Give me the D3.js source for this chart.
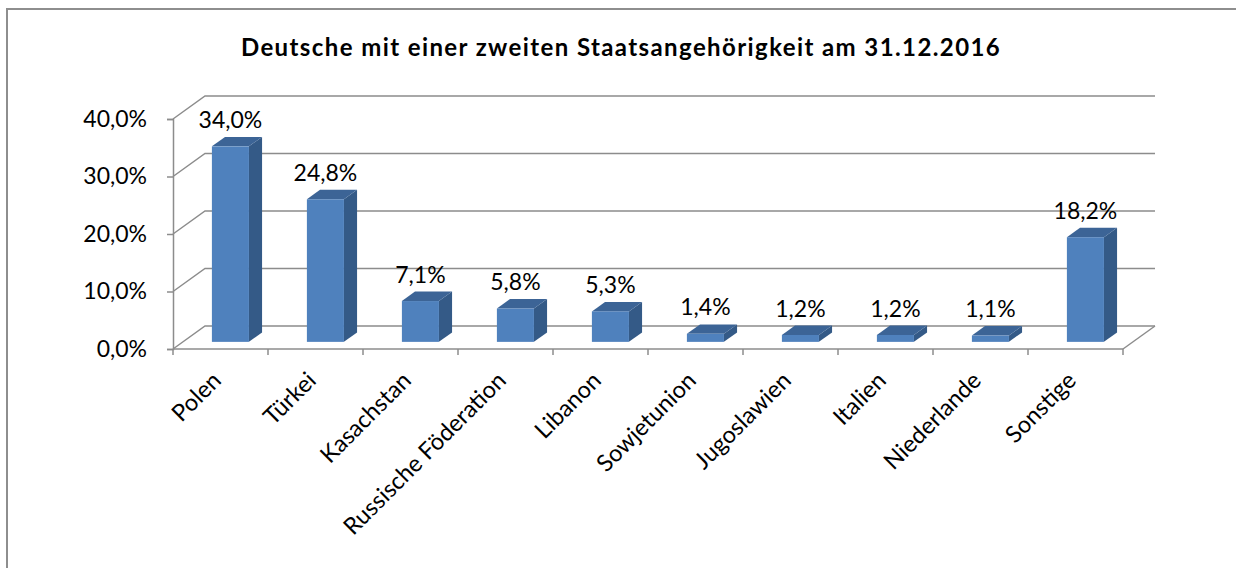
<!DOCTYPE html>
<html>
<head>
<meta charset="utf-8">
<script src="https://cdn.jsdelivr.net/npm/d3@7"></script>
<style>
  body { margin: 0; background: #fff; }
  svg { font-family: Lato, "Open Sans", sans-serif; }
</style>
</head>
<body>
<div id="chart"></div>
<script>
// data
const categories = ["Polen", "Türkei", "Kasachstan", "Russische Föderation", "Libanon",
    "Sowjetunion", "Jugoslawien", "Italien", "Niederlande", "Sonstige"];
const values = [34.0, 24.8, 7.1, 5.8, 5.3, 1.4, 1.2, 1.2, 1.1, 18.2];
const yTicks = [0, 10, 20, 30, 40];
const title = "Deutsche mit einer zweiten Staatsangehörigkeit am 31.12.2016";

const W = 1236, H = 568;
const svg = d3.select("#chart").append("svg")
    .attr("width", W)
    .attr("height", H);

// chart frame (cut off at right/bottom like the original)
svg.append("rect")
    .attr("x", 7).attr("y", 9)
    .attr("width", W + 10).attr("height", H + 10)
    .attr("fill", "#fff")
    .attr("stroke", "#8e8e8e")
    .attr("stroke-width", 2);

svg.append("text")
    .attr("x", 621).attr("y", 56)
    .attr("text-anchor", "middle")
    .attr("font-weight", "bold")
    .attr("font-size", "24px")
    .attr("letter-spacing", "1.4px")
    .text(title);

// plot area (front plane) + depth offset
const left = 173, right = 1123;
const dx = 32, dy = -23;
const x = d3.scaleBand().domain(categories).range([left, right]).padding(0);
const y = d3.scaleLinear().domain([0, 40]).range([349, 119]);

const fmt = v => d3.format(".1f")(v).replace(".", ",") + "%";
const grid = "#8c8c8c";
const fs = "23px";

// back grid lines with side-wall diagonals
yTicks.forEach(t => {
    svg.append("path")
        .attr("d", `M${left},${y(t)} L${left + dx},${y(t) + dy} L${right + dx},${y(t) + dy}`)
        .attr("fill", "none")
        .attr("stroke", grid)
        .attr("stroke-width", 1.5);
});

// floor outline
svg.append("path")
    .attr("d", `M${right},${y(0)} L${right + dx},${y(0) + dy}`)
    .attr("stroke", grid).attr("stroke-width", 1.5).attr("fill", "none");

// axes
const yAxis = d3.axisLeft(y).tickValues(yTicks).tickSize(6).tickFormat(fmt);
const gy = svg.append("g").attr("transform", `translate(${left},0)`).call(yAxis);
gy.select(".domain").attr("stroke", grid).attr("stroke-width", 1.5);
gy.selectAll(".tick line").attr("stroke", grid).attr("stroke-width", 1.5);
gy.selectAll(".tick text")
    .attr("font-size", fs).attr("font-family", "Lato")
    .attr("fill", "#000").attr("x", -26);

svg.append("line")
    .attr("x1", left).attr("x2", right)
    .attr("y1", y(0)).attr("y2", y(0))
    .attr("stroke", grid).attr("stroke-width", 1.5);

svg.selectAll(".xtick")
    .data(d3.range(categories.length + 1))
    .enter().append("line")
    .attr("class", "xtick")
    .attr("x1", i => left + i * x.step()).attr("x2", i => left + i * x.step())
    .attr("y1", y(0)).attr("y2", y(0) + 6)
    .attr("stroke", grid).attr("stroke-width", 1.5);

// category labels
svg.selectAll(".cat")
    .data(categories)
    .enter().append("text")
    .attr("class", "cat")
    .attr("text-anchor", "end")
    .attr("font-size", "23.5px")
    .attr("transform", d => `translate(${x(d) + x.bandwidth() / 2 + 2},${y(0) + 33}) rotate(-45)`)
    .text(d => d);

// 3D bars
const f0 = 0.31, f1 = 0.72;
const bw = x.bandwidth() * 0.39;
const bars = categories.map((c, i) => {
    const cx = x(c) + x.bandwidth() / 2 + dx * f0;
    return {
        c: c, v: values[i],
        x0: cx - bw / 2, x1: cx + bw / 2,
        yb: y(0) + dy * f0, yt: y(values[i]) + dy * f0
    };
});
const ddx = dx * (f1 - f0), ddy = dy * (f1 - f0);

const g = svg.selectAll(".bar").data(bars).enter().append("g").attr("class", "bar");
g.append("path")
    .attr("d", d => `M${d.x1},${d.yb} L${d.x1 + ddx},${d.yb + ddy} L${d.x1 + ddx},${d.yt + ddy} L${d.x1},${d.yt}Z`)
    .attr("fill", "#345a87");
g.append("path")
    .attr("d", d => `M${d.x0},${d.yt} L${d.x0 + ddx},${d.yt + ddy} L${d.x1 + ddx},${d.yt + ddy} L${d.x1},${d.yt}Z`)
    .attr("fill", "#3c6496");
g.append("rect")
    .attr("x", d => d.x0).attr("y", d => d.yt)
    .attr("width", bw).attr("height", d => d.yb - d.yt)
    .attr("fill", "#4f81bd");

// value labels
svg.selectAll(".val")
    .data(bars)
    .enter().append("text")
    .attr("class", "val")
    .attr("text-anchor", "middle")
    .attr("font-size", fs)
    .attr("x", d => (d.x0 + d.x1) / 2)
    .attr("y", d => d.yt + ddy - 9)
    .text(d => fmt(d.v));
</script>
</body>
</html>
